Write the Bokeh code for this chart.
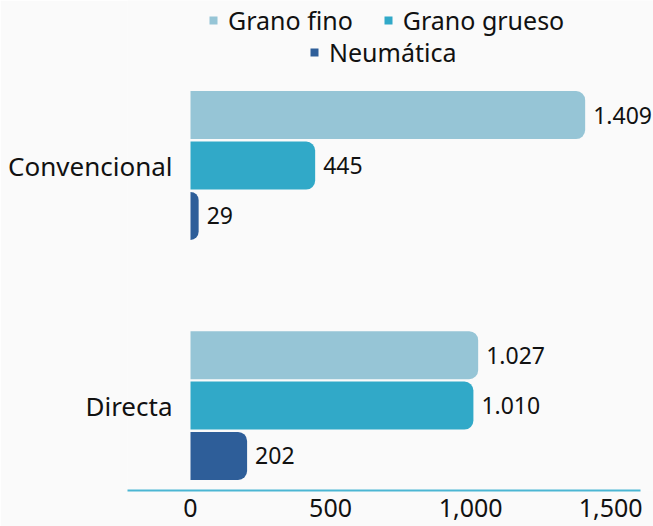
from bokeh.plotting import figure
from bokeh.models import (ColumnDataSource, Legend, LegendItem, FixedTicker,
                          NumeralTickFormatter, Range1d, LabelSet)
from bokeh.embed import file_html
from bokeh.resources import INLINE
from bokeh.core.properties import value

categories = ["Convencional", "Directa"]
series = ["Grano fino", "Grano grueso", "Neumática"]
grano_fino = [1409, 1027]
grano_grueso = [445, 1010]
neumatica = [29, 202]
x_ticks = [0, 500, 1000, 1500]

colors = ["#96c5d6", "#31a9c8", "#2e5e99"]
dodge = [0.21, 0.0, -0.21]
cat_pos = {"Convencional": 1, "Directa": 0}
FONT = "Noto Sans"
BG = "#fafafa"

p = figure(width=653, height=526, output_backend="svg", toolbar_location=None,
           x_range=Range1d(-225, 1653), y_range=Range1d(-0.354, 1.6875),
           background_fill_color=BG, border_fill_color=BG,
           min_border_left=127, min_border_right=0, min_border_top=0, min_border_bottom=36)
p.outline_line_color = None
p.grid.visible = False

renderers = []
for vals, col, dy, name in zip([grano_fino, grano_grueso, neumatica], colors, dodge, series):
    ys = [cat_pos[c] + dy for c in categories]
    src = ColumnDataSource(dict(y=ys, right=vals,
                                lab=[f"{v:,}".replace(",", ".") for v in vals]))
    r = p.hbar(y="y", left=0, right="right", height=0.2, source=src,
               fill_color=col, line_color=None, border_radius=(0, 9, 9, 0))
    labels = LabelSet(x="right", y="y", text="lab", source=src, x_offset=8, y_offset=0,
                      text_baseline="middle", text_align="left",
                      text_font=value(FONT), text_font_size="23px", text_color="#111111")
    p.add_layout(labels)
    renderers.append(r)

# x axis
p.xaxis.ticker = FixedTicker(ticks=x_ticks)
p.xaxis.formatter = NumeralTickFormatter(format="0,0")
p.xaxis.bounds = (-225, 1607)
p.xaxis.axis_line_color = "#4bb6d3"
p.xaxis.axis_line_width = 2
p.xaxis.major_tick_line_color = None
p.xaxis.minor_tick_line_color = None
p.xaxis.major_label_text_font = FONT
p.xaxis.major_label_text_font_size = "25px"
p.xaxis.major_label_text_color = "#111111"
p.xaxis.major_label_standoff = 2

# y axis
p.yaxis.ticker = FixedTicker(ticks=[cat_pos[c] for c in categories])
p.yaxis.major_label_overrides = {cat_pos[c]: c for c in categories}
p.yaxis.axis_line_color = None
p.yaxis.major_tick_line_color = None
p.yaxis.minor_tick_line_color = None
p.yaxis.major_label_text_font = FONT
p.yaxis.major_label_text_font_size = "26px"
p.yaxis.major_label_text_color = "#111111"
p.yaxis.major_label_standoff = -51

def make_legend(items, loc):
    lg = Legend(items=items, orientation="horizontal", location=loc,
                label_text_font=FONT, label_text_font_size="25px",
                label_text_color="#111111", glyph_width=10, glyph_height=10,
                label_standoff=10, spacing=30, padding=0, margin=0,
                label_height=28, background_fill_alpha=0, border_line_alpha=0)
    return lg

leg1 = make_legend([LegendItem(label=series[0], renderers=[renderers[0]]),
                    LegendItem(label=series[1], renderers=[renderers[1]])], (81, 453))
leg2 = make_legend([LegendItem(label=series[2], renderers=[renderers[2]])], (182, 421))
p.add_layout(leg1, "center")
p.add_layout(leg2, "center")

open("out.html", "w").write(file_html(p, INLINE))
